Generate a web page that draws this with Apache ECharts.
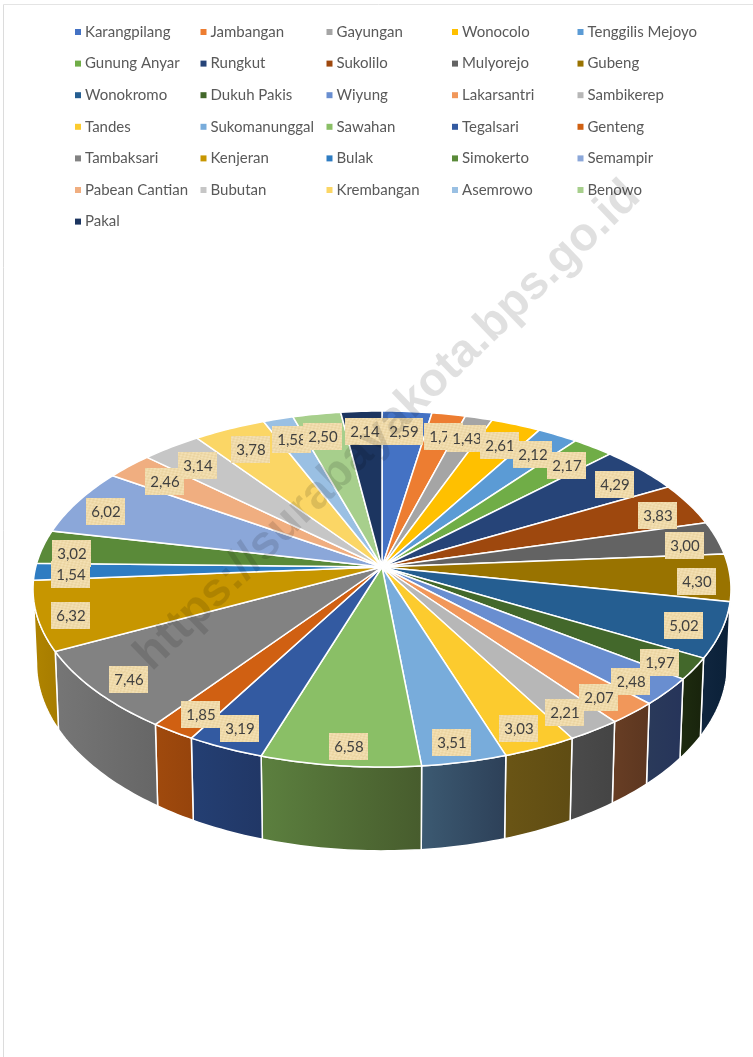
<!DOCTYPE html>
<html>
<head>
<meta charset="utf-8">
<style>
  html, body { margin: 0; padding: 0; background: #fff; }
  #chart { width: 753px; height: 1057px; }
</style>
<script src="https://cdn.jsdelivr.net/npm/echarts@6/dist/echarts.min.js"></script>
</head>
<body>
<div id="chart"></div>
<script>
// kecamatan, clockwise from 12 o'clock
const districts = ['Karangpilang', 'Jambangan', 'Gayungan', 'Wonocolo', 'Tenggilis Mejoyo',
  'Gunung Anyar', 'Rungkut', 'Sukolilo', 'Mulyorejo', 'Gubeng',
  'Wonokromo', 'Dukuh Pakis', 'Wiyung', 'Lakarsantri', 'Sambikerep',
  'Tandes', 'Sukomanunggal', 'Sawahan', 'Tegalsari', 'Genteng',
  'Tambaksari', 'Kenjeran', 'Bulak', 'Simokerto', 'Semampir',
  'Pabean Cantian', 'Bubutan', 'Krembangan', 'Asemrowo', 'Benowo',
  'Pakal'];
const shares = [2.59, 1.75, 1.43, 2.61, 2.12,
  2.17, 4.29, 3.83, 3.00, 4.30,
  5.02, 1.97, 2.48, 2.07, 2.21,
  3.03, 3.51, 6.58, 3.19, 1.85,
  7.46, 6.32, 1.54, 3.02, 6.02,
  2.46, 3.14, 3.78, 1.58, 2.50,
  2.14];
const topColors = ['#4472c4', '#ed7d31', '#a5a5a5', '#ffc000', '#5b9bd5',
  '#70ad47', '#264478', '#9e480e', '#636363', '#997300',
  '#255e91', '#43682b', '#698ed0', '#f1975a', '#b7b7b7',
  '#fccb2e', '#78acdb', '#8abf66', '#335aa1', '#d06012',
  '#828282', '#c79600', '#2e7cc2', '#5a8a39', '#8ba7d9',
  '#f0ae80', '#c6c6c6', '#fbd665', '#9ac0e3', '#a7cf8c',
  '#1c3560'];
// front wall shading, only the slices that reach the front of the disc
const wallColors = {
  Gubeng: ['#5c4500', '#5c4500'],
  Wonokromo: ['#10263f', '#0a2038'],
  'Dukuh Pakis': ['#1e2c10', '#18230c'],
  Wiyung: ['#2a3a5a', '#26345a'],
  Lakarsantri: ['#683e24', '#5c3620'],
  Sambikerep: ['#4b4b4b', '#444444'],
  Tandes: ['#6a5515', '#5f4c13'],
  Sukomanunggal: ['#3c5a72', '#2d4058'],
  Sawahan: ['#5c803f', '#475c2d'],
  Tegalsari: ['#243f73', '#213766'],
  Genteng: ['#a04a0d', '#96440c'],
  Tambaksari: ['#767676', '#666666'],
  Kenjeran: ['#b08400', '#a67c00']
};
// label placement tweaks in px, excel moved these around to fit
const labelNudge = [[0, 0], [4, 3], [1, 2], [1, 3], [-2, 3],
  [1, 4], [7, 3], [6, 4], [8, 5], [6, 6],
  [-1, 3], [-1, 5], [-7, 3], [-8, 0], [-8, -1],
  [-6, -1], [-5, 0], [5, 0], [0, -1], [7, 0],
  [4, 2], [-4, 5], [-3, 4], [-11, 5], [-9, 2],
  [4, 3], [0, 4], [2, 3], [0, 2], [-2, 3],
  [1, 0]];

// disc geometry: a circle seen in perspective, so the apex is above the ellipse centre
const apexX = 382, apexY = 567, radiusX = 346.3, radiusY = 175.3, persp = 0.1236;
const wallDepth = 73.5, wallShrink = 0.99;
const wallFrom = 97, wallTo = 263;

const total = shares.reduce((a, b) => a + b, 0);
let running = 0;
const starts = shares.map(v => { const s = running; running += v; return s; });

function project(deg, r) {
  const t = deg * Math.PI / 180;
  const w = 1 + persp * r * Math.cos(t);
  return [apexX + radiusX * r * Math.sin(t) / w, apexY - radiusY * r * Math.cos(t) / w];
}
function arcPoints(a, b, r) {
  const pts = [];
  const n = Math.max(2, Math.ceil(b - a));
  for (let i = 0; i <= n; i++) pts.push(project(a + (b - a) * i / n, r));
  return pts;
}
function wallPoint(p, deg) {
  const w = 1 + persp * Math.cos(deg * Math.PI / 180);
  return [apexX + (p[0] - apexX) * wallShrink, p[1] + wallDepth / w];
}

function renderSlice(params, api) {
  const a = api.value(0) / total * 360;
  const b = (api.value(0) + api.value(1)) / total * 360;
  const children = [];
  const lo = Math.max(a, wallFrom), hi = Math.min(b, wallTo);
  const wall = wallColors[params.seriesName];
  if (hi > lo && wall) {
    const rim = arcPoints(lo, hi, 1);
    const n = rim.length - 1;
    const under = rim.map((p, i) => wallPoint(p, lo + (hi - lo) * i / n)).reverse();
    children.push({
      type: 'polygon',
      shape: { points: rim.concat(under) },
      style: {
        fill: new echarts.graphic.LinearGradient(0, 0, 1, 0, [
          { offset: 0, color: wall[0] }, { offset: 1, color: wall[1] }
        ]),
        stroke: '#fff', lineWidth: 1.5
      }
    });
  }
  children.push({
    type: 'polygon',
    shape: { points: [[apexX, apexY]].concat(arcPoints(a, b, 1)) },
    style: { fill: topColors[params.seriesIndex], stroke: '#fff', lineWidth: 1.5 }
  });
  return { type: 'group', children };
}

// parchment look of the data labels
function parchment() {
  const c = document.createElement('canvas');
  c.width = 40; c.height = 28;
  const g = c.getContext('2d');
  for (let y = 0; y < c.height; y++) {
    for (let x = 0; x < c.width; x++) {
      const m = Math.sin(x * 1.7 + y * 0.6) + Math.sin(y * 2.3 - x * 0.4);
      g.fillStyle = 'rgb(' + Math.round(239 + m * 3) + ',' + Math.round(218 + m * 4) + ',' + Math.round(170 + m * 6) + ')';
      g.fillRect(x, y, 1, 1);
    }
  }
  return c;
}
const labelFill = { image: parchment(), repeat: 'repeat' };

function renderLabel(params, api) {
  const mid = (api.value(0) + api.value(1) / 2) / total * 360;
  const r = 0.885 - 0.03 * Math.cos(mid * Math.PI / 180);
  const p = project(mid, r);
  const nudge = labelNudge[params.dataIndex];
  const x = Math.round(p[0]) + nudge[0], y = Math.round(p[1]) + nudge[1];
  return {
    type: 'group',
    children: [
      { type: 'rect', shape: { x: x - 20, y: y - 14, width: 39, height: 27 }, style: { fill: labelFill } },
      {
        type: 'text',
        style: {
          x: x, y: y, text: api.value(1).toFixed(2).replace('.', ','),
          align: 'center', verticalAlign: 'middle',
          fontFamily: 'Lato', fontSize: 15, fill: '#404040'
        }
      }
    ]
  };
}

const sliceSeries = districts.map((name, i) => ({
  type: 'custom',
  name: name,
  coordinateSystem: 'none',
  silent: true,
  z: 2,
  itemStyle: { color: topColors[i] },
  renderItem: renderSlice,
  data: [[starts[i], shares[i]]]
}));
const labelSeries = {
  type: 'custom',
  name: 'label',
  coordinateSystem: 'none',
  silent: true,
  z: 3,
  renderItem: renderLabel,
  data: shares.map((v, i) => [starts[i], v])
};

// legend is laid out as five columns
const columnLeft = [75, 200.5, 326.5, 452, 577.5];
const legends = columnLeft.map((left, col) => ({
  left: left,
  top: 24,
  padding: 0,
  orient: 'vertical',
  icon: 'rect',
  itemWidth: 6,
  itemHeight: 6,
  itemGap: 15.6,
  selectedMode: false,
  textStyle: { fontFamily: 'Lato', fontSize: 15, color: '#595959', lineHeight: 16, padding: [0, 0, 0, -1] },
  data: districts.filter((d, i) => i % 5 === col)
}));

const chart = echarts.init(document.getElementById('chart'));
chart.setOption({
  animation: false,
  backgroundColor: '#fff',
  legend: legends,
  series: sliceSeries.concat(labelSeries),
  graphic: [
    { type: 'line', z: 10, shape: { x1: 3.5, y1: 4.5, x2: 3.5, y2: 1057 }, style: { stroke: '#dcdcdc', lineWidth: 1 } },
    { type: 'line', z: 10, shape: { x1: 3.5, y1: 4.5, x2: 753, y2: 4.5 }, style: { stroke: '#e4e4e4', lineWidth: 1 } },
    {
      type: 'text', z: 20, x: 388, y: 426, rotation: 44 * Math.PI / 180,
      style: {
        text: 'https://surabayakota.bps.go.id',
        align: 'center', verticalAlign: 'middle',
        fontFamily: 'Liberation Sans', fontWeight: 'bold', fontSize: 47,
        fill: 'rgba(0,0,0,0.12)'
      }
    }
  ]
});
</script>
</body>
</html>
